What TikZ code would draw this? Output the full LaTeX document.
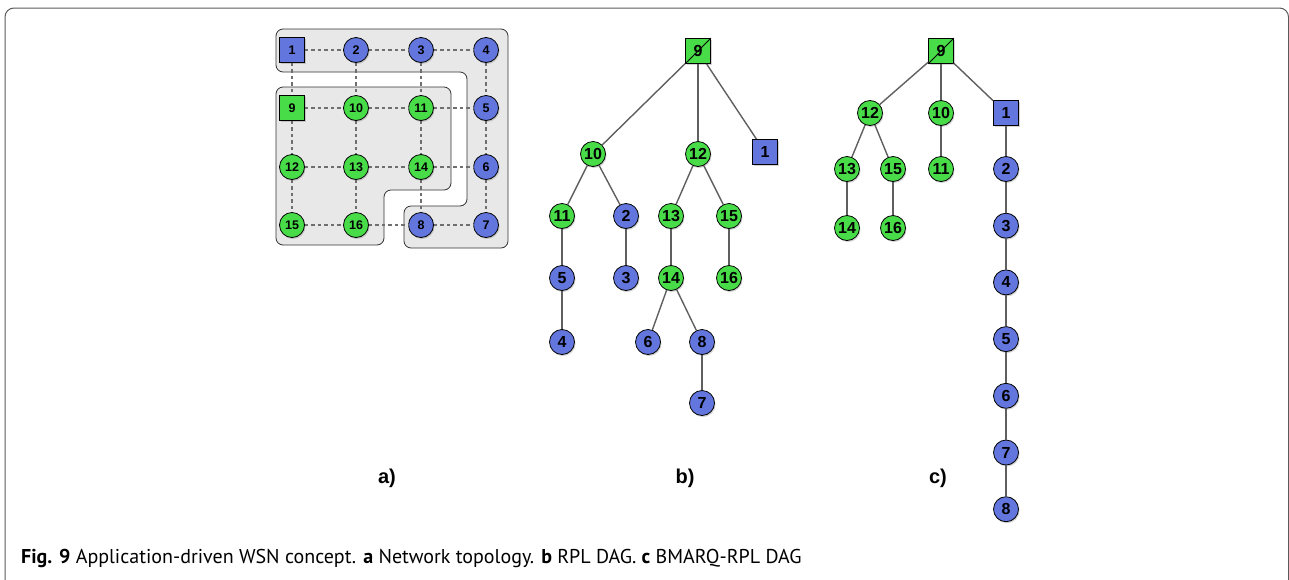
\documentclass[tikz,border=0pt]{standalone}
\usepackage{fontspec}
\setsansfont{Liberation Sans}
\newfontfamily\capfont{PT Sans}
\usetikzlibrary{shadows}
\definecolor{moteblue}{RGB}{98,118,222}
\definecolor{motegreen}{RGB}{72,220,72}
\definecolor{regiongray}{RGB}{232,232,232}
\definecolor{edgegray}{RGB}{95,95,95}
\definecolor{framegray}{RGB}{90,90,90}

\begin{document}
\begin{tikzpicture}[x=1pt,y=-1pt,
	mote/.style={circle,draw=black,line width=0.8pt,minimum size=25pt,inner sep=0pt,
		font=\sffamily\bfseries\fontsize{16}{16}\selectfont,
		drop shadow={opacity=0.35,shadow xshift=1pt,shadow yshift=-1.5pt}},
	sink/.style={mote,rectangle,minimum size=25pt},
	small/.style={font=\sffamily\bfseries\fontsize{12.5}{12.5}\selectfont},
	region/.style={draw=black!80,line width=0.8pt,fill=regiongray,rounded corners=7pt},
	grid/.style={draw=edgegray!90,dashed,line width=1.5pt,dash pattern=on 3.5pt off 3pt},
	every edge/.append style={draw=edgegray,line width=1.4pt},
	tag/.style={font=\sffamily\bfseries\fontsize{20}{20}\selectfont}]
	\useasboundingbox (0,0) rectangle (1289,579);
	\draw[framegray,line width=1pt,rounded corners=9pt] (5,620) -- (5,8) -- (1288.5,8) -- (1288.5,620);

	% a) network topology
	\draw[region] (276,29) -- (508,29) -- (508,248) -- (404,248) -- (404,206) -- (467,206) -- (467,72) -- (276,72) -- cycle;
	\draw[region] (276,87) -- (451,87) -- (451,190) -- (384,190) -- (384,245) -- (276,245) -- cycle;
	\node[sink,small,fill=moteblue] (a1) at (292,50) {1};
	\node[mote,small,fill=moteblue] (a2) at (356,50) {2};
	\node[mote,small,fill=moteblue] (a3) at (421,50) {3};
	\node[mote,small,fill=moteblue] (a4) at (486,50) {4};
	\node[sink,small,fill=motegreen] (a9) at (292,108) {9};
	\node[mote,small,fill=motegreen] (a10) at (356,108) {10};
	\node[mote,small,fill=motegreen] (a11) at (421,108) {11};
	\node[mote,small,fill=moteblue] (a5) at (486,108) {5};
	\node[mote,small,fill=motegreen] (a12) at (292,167) {12};
	\node[mote,small,fill=motegreen] (a13) at (356,167) {13};
	\node[mote,small,fill=motegreen] (a14) at (421,167) {14};
	\node[mote,small,fill=moteblue] (a6) at (486,167) {6};
	\node[mote,small,fill=motegreen] (a15) at (292,225) {15};
	\node[mote,small,fill=motegreen] (a16) at (356,225) {16};
	\node[mote,small,fill=moteblue] (a8) at (421,225) {8};
	\node[mote,small,fill=moteblue] (a7) at (486,225) {7};
	\path[every edge/.style={grid}]
		(a1) edge (a2) edge (a9)
		(a2) edge (a3) edge (a10)
		(a3) edge (a4) edge (a11)
		(a4) edge (a5)
		(a9) edge (a10) edge (a12)
		(a10) edge (a11) edge (a13)
		(a11) edge (a5) edge (a14)
		(a5) edge (a6)
		(a12) edge (a13) edge (a15)
		(a13) edge (a14) edge (a16)
		(a14) edge (a6) edge (a8)
		(a6) edge (a7)
		(a15) edge (a16)
		(a16) edge (a8)
		(a8) edge (a7);

	% b) RPL DAG
	\node[sink,fill=motegreen] (b9) at (698,51) {9};
	\draw[line width=0.8pt] (b9.south west) -- (b9.north east);
	\node[mote,fill=motegreen] (b10) at (593,154) {10};
	\node[mote,fill=motegreen] (b12) at (698,154) {12};
	\node[sink,fill=moteblue] (b1) at (765,152) {1};
	\node[mote,fill=motegreen] (b11) at (562,216) {11};
	\node[mote,fill=moteblue] (b2) at (626,216) {2};
	\node[mote,fill=motegreen] (b13) at (671,216) {13};
	\node[mote,fill=motegreen] (b15) at (729,216) {15};
	\node[mote,fill=moteblue] (b5) at (562,278) {5};
	\node[mote,fill=moteblue] (b3) at (626,278) {3};
	\node[mote,fill=motegreen] (b14) at (671,278) {14};
	\node[mote,fill=motegreen] (b16) at (729,278) {16};
	\node[mote,fill=moteblue] (b4) at (562,342) {4};
	\node[mote,fill=moteblue] (b6) at (648,342) {6};
	\node[mote,fill=moteblue] (b8) at (702,342) {8};
	\node[mote,fill=moteblue] (b7) at (702,403) {7};
	\path (b9) edge (b10) edge (b12) edge (b1);
	\path (b10) edge (b11) edge (b2);
	\path (b12) edge (b13) edge (b15);
	\path (b11) edge (b5);
	\path (b5) edge (b4);
	\path (b2) edge (b3);
	\path (b13) edge (b14);
	\path (b15) edge (b16);
	\path (b14) edge (b6) edge (b8);
	\path (b8) edge (b7);

	% c) BMARQ-RPL DAG
	\node[sink,fill=motegreen] (c9) at (941,51) {9};
	\draw[line width=0.8pt] (c9.south west) -- (c9.north east);
	\node[mote,fill=motegreen] (c12) at (870,113) {12};
	\node[mote,fill=motegreen] (c10) at (941,113) {10};
	\node[sink,fill=moteblue] (c1) at (1006,113) {1};
	\node[mote,fill=motegreen] (c13) at (847,169) {13};
	\node[mote,fill=motegreen] (c15) at (893,169) {15};
	\node[mote,fill=motegreen] (c11) at (941,169) {11};
	\node[mote,fill=motegreen] (c14) at (847,228) {14};
	\node[mote,fill=motegreen] (c16) at (893,228) {16};
	\foreach \n [count=\i from 0] in {2,...,8}
		\node[mote,fill=moteblue] (c\n) at (1006,169+56.7*\i) {\n};
	\path (c9) edge (c12) edge (c10) edge (c1);
	\path (c12) edge (c13) edge (c15);
	\path (c10) edge (c11);
	\path (c13) edge (c14);
	\path (c15) edge (c16);
	\path (c1) edge (c2);
	\foreach \n [evaluate=\n as \m using int(\n+1)] in {2,...,7}
		\path (c\n) edge (c\m);

	\node[tag] (taga) at (387,478) {a)};
	\node[tag] (tagb) at (685,478) {b)};
	\node[tag] (tagc) at (938,478) {c)};
	\node[anchor=base west,inner sep=0pt,font=\capfont\fontsize{20}{20}\selectfont] (caption) at (21,563)
		{\textbf{Fig. 9} Application-driven WSN concept. \textbf{a} Network topology. \textbf{b} RPL DAG. \textbf{c} BMARQ-RPL DAG};
\end{tikzpicture}
\end{document}
